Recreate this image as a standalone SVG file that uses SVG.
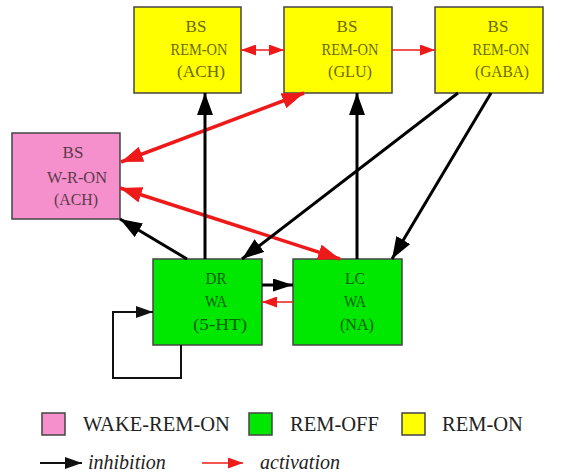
<svg xmlns="http://www.w3.org/2000/svg" width="577" height="476" viewBox="0 0 577 476">
<style>
.box{stroke:#444;stroke-width:1.5}
.y{fill:#ffff00}
.p{fill:#f590cc}
.g{fill:#00e800}
.t{font-family:"Liberation Serif",serif;font-size:17px;text-anchor:middle}
.ty{fill:#6a6a00}
.tp{fill:#5a3a4a}
.tg{fill:#006000}
.blk{stroke:#000;stroke-width:3;fill:none}
.red{stroke:#ee1a1a;stroke-width:3.5;fill:none}
.redt{stroke:#ee1a1a;stroke-width:1.5;fill:none}
.blkt{stroke:#111;stroke-width:2;fill:none}
.leg{font-family:"Liberation Serif",serif;font-size:20.5px;fill:#222}
.legi{font-family:"Liberation Serif",serif;font-size:20px;font-style:italic;fill:#222}
</style>
<defs>
<marker id="hb" markerUnits="userSpaceOnUse" markerWidth="22" markerHeight="16" refX="22" refY="8" orient="auto-start-reverse"><path d="M0,0 L22,8 L0,16 z" fill="#000"/></marker>
<marker id="hr" markerUnits="userSpaceOnUse" markerWidth="22" markerHeight="16" refX="22" refY="8" orient="auto-start-reverse"><path d="M0,0 L22,8 L0,16 z" fill="#ee1a1a"/></marker>
<marker id="hrs" markerUnits="userSpaceOnUse" markerWidth="15" markerHeight="11" refX="15" refY="5.5" orient="auto-start-reverse"><path d="M0,0 L15,5.5 L0,11 z" fill="#ee1a1a"/></marker>
<marker id="hbm" markerUnits="userSpaceOnUse" markerWidth="20" markerHeight="13" refX="20" refY="6.5" orient="auto-start-reverse"><path d="M0,0 L20,6.5 L0,13 z" fill="#000"/></marker>
<marker id="hbs" markerUnits="userSpaceOnUse" markerWidth="17" markerHeight="12" refX="17" refY="6" orient="auto-start-reverse"><path d="M0,0 L17,6 L0,12 z" fill="#111"/></marker>
</defs>

<g id="n_ach">
<rect class="box y" x="134" y="7" width="107" height="86"/>
<text class="t ty" x="196" y="32">BS</text>
<text class="t ty" x="199" y="55" textLength="57" lengthAdjust="spacingAndGlyphs">REM-ON</text>
<text class="t ty" x="201" y="77" textLength="48" lengthAdjust="spacingAndGlyphs">(ACH)</text>
</g>
<g id="n_glu">
<rect class="box y" x="284" y="7" width="108" height="86"/>
<text class="t ty" x="347" y="32">BS</text>
<text class="t ty" x="350" y="55" textLength="57" lengthAdjust="spacingAndGlyphs">REM-ON</text>
<text class="t ty" x="350" y="77" textLength="44" lengthAdjust="spacingAndGlyphs">(GLU)</text>
</g>
<g id="n_gaba">
<rect class="box y" x="435" y="7" width="108" height="86"/>
<text class="t ty" x="498" y="32">BS</text>
<text class="t ty" x="501" y="55" textLength="57" lengthAdjust="spacingAndGlyphs">REM-ON</text>
<text class="t ty" x="502" y="77" textLength="54" lengthAdjust="spacingAndGlyphs">(GABA)</text>
</g>
<g id="n_wron">
<rect class="box p" x="12" y="133" width="108" height="86"/>
<text class="t tp" x="73" y="158">BS</text>
<text class="t tp" x="77" y="183" textLength="60" lengthAdjust="spacingAndGlyphs">W-R-ON</text>
<text class="t tp" x="76" y="205" textLength="44" lengthAdjust="spacingAndGlyphs">(ACH)</text>
</g>
<g id="n_dr">
<rect class="box g" x="153" y="259" width="109" height="86"/>
<text class="t tg" x="216" y="284" textLength="21" lengthAdjust="spacingAndGlyphs">DR</text>
<text class="t tg" x="216" y="307" textLength="22" lengthAdjust="spacingAndGlyphs">WA</text>
<text class="t tg" x="220" y="330" textLength="54" lengthAdjust="spacingAndGlyphs">(5-HT)</text>
</g>
<g id="n_lc">
<rect class="box g" x="293" y="259" width="109" height="86"/>
<text class="t tg" x="355" y="284" textLength="20" lengthAdjust="spacingAndGlyphs">LC</text>
<text class="t tg" x="355" y="307" textLength="22" lengthAdjust="spacingAndGlyphs">WA</text>
<text class="t tg" x="357" y="330" textLength="34" lengthAdjust="spacingAndGlyphs">(NA)</text>
</g>

<g id="connectors">
<line class="redt" x1="241" y1="50" x2="284" y2="50" marker-start="url(#hrs)" marker-end="url(#hrs)"/>
<line class="redt" x1="392" y1="50" x2="435" y2="50" marker-end="url(#hrs)"/>
<line class="red" x1="121" y1="162" x2="304" y2="93" marker-start="url(#hr)" marker-end="url(#hr)"/>
<line class="red" x1="120" y1="188" x2="340" y2="259" marker-start="url(#hr)" marker-end="url(#hr)"/>
<line class="blk" x1="187" y1="259" x2="120" y2="219" marker-end="url(#hb)"/>
<line class="blk" x1="205" y1="259" x2="205" y2="93" marker-end="url(#hb)"/>
<line class="blk" x1="458" y1="93" x2="242" y2="259" marker-end="url(#hb)"/>
<line class="blk" x1="357" y1="259" x2="357" y2="93" marker-end="url(#hb)"/>
<line class="blk" x1="491" y1="93" x2="392" y2="259" marker-end="url(#hb)"/>
<line class="blk" x1="262" y1="285" x2="293" y2="285" marker-end="url(#hbm)"/>
<line class="redt" x1="293" y1="302" x2="262" y2="302" marker-end="url(#hrs)"/>
<polyline class="blkt" points="181,345 181,378 113,378 113,312 153,312" marker-end="url(#hbs)"/>
</g>

<g id="legend">
<rect class="box p" x="42" y="413" width="23" height="22"/>
<text class="leg" x="83" y="431">WAKE-REM-ON</text>
<rect class="box g" x="249" y="413" width="23" height="22"/>
<text class="leg" x="290" y="431">REM-OFF</text>
<rect class="box y" x="402" y="413" width="23" height="22"/>
<text class="leg" x="442" y="431">REM-ON</text>
<line class="blkt" x1="40" y1="463" x2="82" y2="463" marker-end="url(#hbs)"/>
<text class="legi" x="88" y="469">inhibition</text>
<line class="redt" x1="202" y1="463" x2="243" y2="463" stroke-width="2" marker-end="url(#hrs)"/>
<text class="legi" x="260" y="469">activation</text>
</g>
</svg>
